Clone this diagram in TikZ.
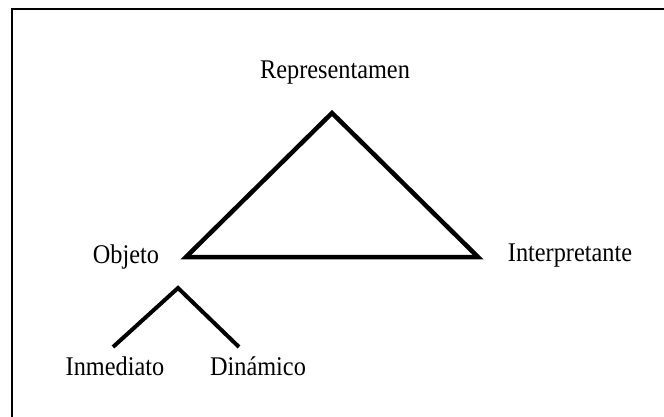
\documentclass[tikz,border=0pt]{standalone}
\usepackage{fontspec}
\setmainfont{Liberation Serif}
\newcommand{\narrowtext}[1]{\scalebox{0.9}[1]{#1}}
\begin{document}
\begin{tikzpicture}[x=1pt,y=-1pt,
  lbl/.style={inner sep=0pt,anchor=base,font=\fontsize{27}{30}\selectfont},
  thick line/.style={line width=4.5pt,line cap=butt,line join=miter},
  tree line/.style={line width=4pt,line cap=butt},
  frame line/.style={line width=2pt}]
\useasboundingbox (0,0) rectangle (664,417);
% frame (only top and left visible)
\coordinate (ftl) at (12,9);
\coordinate (ftr) at (664,9);
\coordinate (fbl) at (12,417);
\draw[frame line] (fbl) -- (ftl) -- (ftr);
% triangle
\coordinate (A) at (332,113);
\coordinate (L) at (186,257);
\coordinate (R) at (478,257);
\draw[thick line] (A) -- (R) -- (L) -- cycle;
% labels
\node[lbl] (rep) at (335,79) {\narrowtext{Representamen}};
\node[lbl] (obj) at (126,263) {\narrowtext{Objeto}};
\node[lbl] (int) at (570,261) {\narrowtext{Interpretante}};
% small tree
\coordinate (T) at (178,288);
\coordinate (TL) at (113,347);
\coordinate (TR) at (239,347);
\draw[tree line] (TL) -- (T) -- (TR);
\node[lbl] (inm) at (115,375) {\narrowtext{Inmediato}};
\node[lbl] (din) at (258,375) {\narrowtext{Dinámico}};
\end{tikzpicture}
\end{document}
